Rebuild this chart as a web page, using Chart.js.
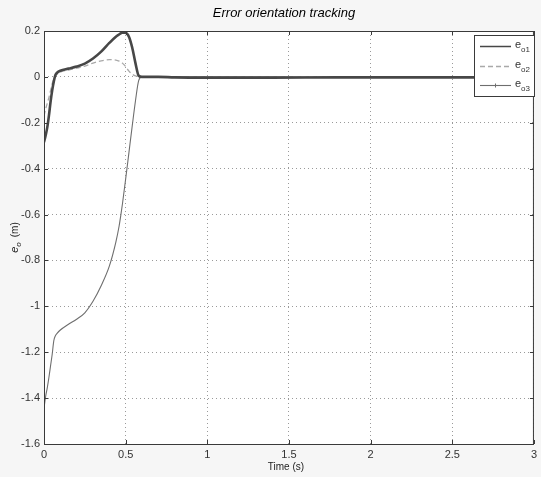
<!DOCTYPE html>
<html><head><meta charset="utf-8">
<script src="https://cdn.jsdelivr.net/npm/chart.js@4/dist/chart.umd.min.js"></script>
<style>html,body{margin:0;padding:0;background:#f6f6f6;overflow:hidden}#wrap{width:541px;height:477px}</style>
</head><body><div id="wrap"><canvas id="c" width="541" height="477"></canvas></div>
<script>
const chartTitle = 'Error orientation tracking';
const xAxisTitle = 'Time (s)';
const seriesSubs = ['o1', 'o2', 'o3'];
const xTicks = [0, 0.5, 1, 1.5, 2, 2.5, 3];
const yTicks = [0.2, 0, -0.2, -0.4, -0.6, -0.8, -1, -1.2, -1.4, -1.6];
const time = [0, 0.01, 0.02, 0.03, 0.04, 0.05, 0.06, 0.07, 0.08, 0.1, 0.15, 0.2, 0.25, 0.3, 0.35, 0.4, 0.44, 0.46, 0.47, 0.48, 0.5, 0.52, 0.54, 0.56, 0.58, 0.6, 0.7, 0.8, 1.0, 1.4, 1.8, 2.2, 2.6, 3.0];
const eo1 = [-0.285, -0.255, -0.22, -0.17, -0.11, -0.06, -0.02, 0.008, 0.018, 0.027, 0.036, 0.045, 0.058, 0.08, 0.11, 0.148, 0.175, 0.185, 0.19, 0.193, 0.192, 0.175, 0.128, 0.06, 0.005, 0, 0, -0.002, -0.003, -0.003, -0.002, -0.002, -0.002, -0.002];
const eo2 = [-0.17, -0.14, -0.115, -0.09, -0.06, -0.03, -0.01, 0.005, 0.012, 0.021, 0.03, 0.038, 0.047, 0.06, 0.07, 0.075, 0.073, 0.069, 0.065, 0.06, 0.045, 0.025, 0.012, 0.004, 0.001, 0, 0, 0, 0, 0, 0, 0, 0, 0];
const eo3 = [-1.443, -1.393, -1.355, -1.31, -1.26, -1.21, -1.15, -1.128, -1.118, -1.103, -1.078, -1.056, -1.028, -0.978, -0.91, -0.825, -0.72, -0.65, -0.605, -0.555, -0.445, -0.33, -0.215, -0.105, -0.015, 0, 0, 0, 0, 0, 0, 0, 0, 0];

const colors = ['#474747', '#a9a9a9', '#6e6e6e'];
const widths = [2.6, 1.3, 1.1];
const dashes = [[], [5, 3], []];
const seriesValues = [eo1, eo2, eo3];

const datasets = seriesValues.map((vals, i) => ({
  label: 'e' + seriesSubs[i],
  data: time.map((t, j) => ({x: t, y: vals[j]})),
  borderColor: colors[i],
  borderWidth: widths[i],
  borderDash: dashes[i],
  pointRadius: 0,
  fill: false,
  cubicInterpolationMode: 'monotone'
}));

const FONT = '"Liberation Sans", Arial, sans-serif';

const decor = {
  id: 'decor',
  beforeDraw(chart) {
    const {ctx, chartArea: a} = chart;
    ctx.save();
    ctx.fillStyle = '#f6f6f6';
    ctx.fillRect(0, 0, chart.width, chart.height);
    ctx.fillStyle = '#ffffff';
    ctx.fillRect(a.left, a.top, a.right - a.left, a.bottom - a.top);
    ctx.restore();
  },
  afterDraw(chart) {
    const {ctx, chartArea: a, scales} = chart;
    ctx.save();
    ctx.strokeStyle = '#3a3a3a';
    ctx.lineWidth = 1;
    ctx.strokeRect(a.left + 0.5, a.top + 0.5, a.right - a.left - 1, a.bottom - a.top);
    ctx.beginPath();
    xTicks.forEach(v => {
      const px = Math.round(scales.x.getPixelForValue(v)) + 0.5;
      ctx.moveTo(px, a.bottom); ctx.lineTo(px, a.bottom - 4);
      ctx.moveTo(px, a.top); ctx.lineTo(px, a.top + 4);
    });
    yTicks.forEach(v => {
      const py = Math.round(scales.y.getPixelForValue(v)) + 0.5;
      ctx.moveTo(a.left, py); ctx.lineTo(a.left + 4, py);
      ctx.moveTo(a.right, py); ctx.lineTo(a.right - 4, py);
    });
    ctx.stroke();
    const cx = (a.left + a.right) / 2;
    ctx.fillStyle = '#000';
    ctx.font = 'italic 13px ' + FONT;
    ctx.textAlign = 'center';
    ctx.textBaseline = 'middle';
    ctx.fillText(chartTitle, cx - 5, 13);
    ctx.fillStyle = '#222';
    ctx.font = '10px ' + FONT;
    ctx.fillText(xAxisTitle, cx - 3, 467);
    ctx.save();
    ctx.translate(15, (a.top + a.bottom) / 2);
    ctx.rotate(-Math.PI / 2);
    ctx.textAlign = 'left';
    ctx.textBaseline = 'alphabetic';
    ctx.font = 'italic 11px ' + FONT;
    const we = ctx.measureText('e').width;
    ctx.font = 'italic 8px ' + FONT;
    const wo = ctx.measureText('o').width;
    ctx.font = '10px ' + FONT;
    const wm = ctx.measureText('(m)').width;
    const gap = 5;
    let x0 = -(we + wo + gap + wm) / 2;
    ctx.font = 'italic 11px ' + FONT;
    ctx.fillText('e', x0, 3);
    ctx.font = 'italic 8px ' + FONT;
    ctx.fillText('o', x0 + we, 6);
    ctx.font = '10px ' + FONT;
    ctx.fillText('(m)', x0 + we + wo + gap, 3);
    ctx.restore();
    const lx = 474, ly = 35, lw = 61, lh = 62;
    ctx.fillStyle = '#ffffff';
    ctx.fillRect(lx, ly, lw, lh);
    ctx.strokeStyle = '#3a3a3a';
    ctx.lineWidth = 1;
    ctx.strokeRect(lx + 0.5, ly + 0.5, lw - 1, lh - 1);
    const rows = [46, 66, 85];
    rows.forEach((ry, i) => {
      ctx.save();
      ctx.strokeStyle = colors[i];
      ctx.lineWidth = i === 0 ? 1.5 : widths[i];
      ctx.setLineDash(dashes[i]);
      ctx.beginPath();
      ctx.moveTo(480, ry + 0.5); ctx.lineTo(511, ry + 0.5);
      ctx.stroke();
      if (i === 2) {
        ctx.setLineDash([]);
        ctx.lineWidth = 1;
        ctx.beginPath();
        ctx.moveTo(495.5, ry - 1.5); ctx.lineTo(495.5, ry + 2.5);
        ctx.stroke();
      }
      ctx.restore();
      ctx.fillStyle = '#333';
      ctx.textAlign = 'left';
      ctx.textBaseline = 'alphabetic';
      ctx.font = '11px ' + FONT;
      ctx.fillText('e', 515, ry + 2);
      const w = ctx.measureText('e').width;
      ctx.font = '8px ' + FONT;
      ctx.fillText(seriesSubs[i], 515 + w, ry + 6);
    });
    ctx.restore();
  }
};

const fmt = v => String(+Number(v).toFixed(2));

new Chart(document.getElementById('c'), {
  type: 'line',
  data: {datasets},
  options: {
    responsive: false,
    animation: false,
    devicePixelRatio: 1,
    layout: {padding: {top: 31, right: 2, left: 0, bottom: 0}},
    plugins: {legend: {display: false}, title: {display: false}, tooltip: {enabled: false}},
    scales: {
      x: {
        type: 'linear', min: 0, max: 3,
        afterFit: s => { s.height = 33; },
        afterBuildTicks: s => { s.ticks = xTicks.map(v => ({value: v})); },
        ticks: {callback: fmt, maxRotation: 0, autoSkip: false, padding: 4, color: '#333', font: {family: FONT, size: 11}},
        grid: {color: '#9a9a9a', lineWidth: 1, drawTicks: false},
        border: {display: false, dash: [1, 3]}
      },
      y: {
        type: 'linear', min: -1.6, max: 0.2,
        afterFit: s => { s.width = 44; },
        afterBuildTicks: s => { s.ticks = yTicks.slice().reverse().map(v => ({value: v})); },
        ticks: {callback: fmt, autoSkip: false, padding: 4, color: '#333', font: {family: FONT, size: 11}},
        grid: {color: '#9a9a9a', lineWidth: 1, drawTicks: false},
        border: {display: false, dash: [1, 3]}
      }
    }
  },
  plugins: [decor]
});
</script>
</body></html>
